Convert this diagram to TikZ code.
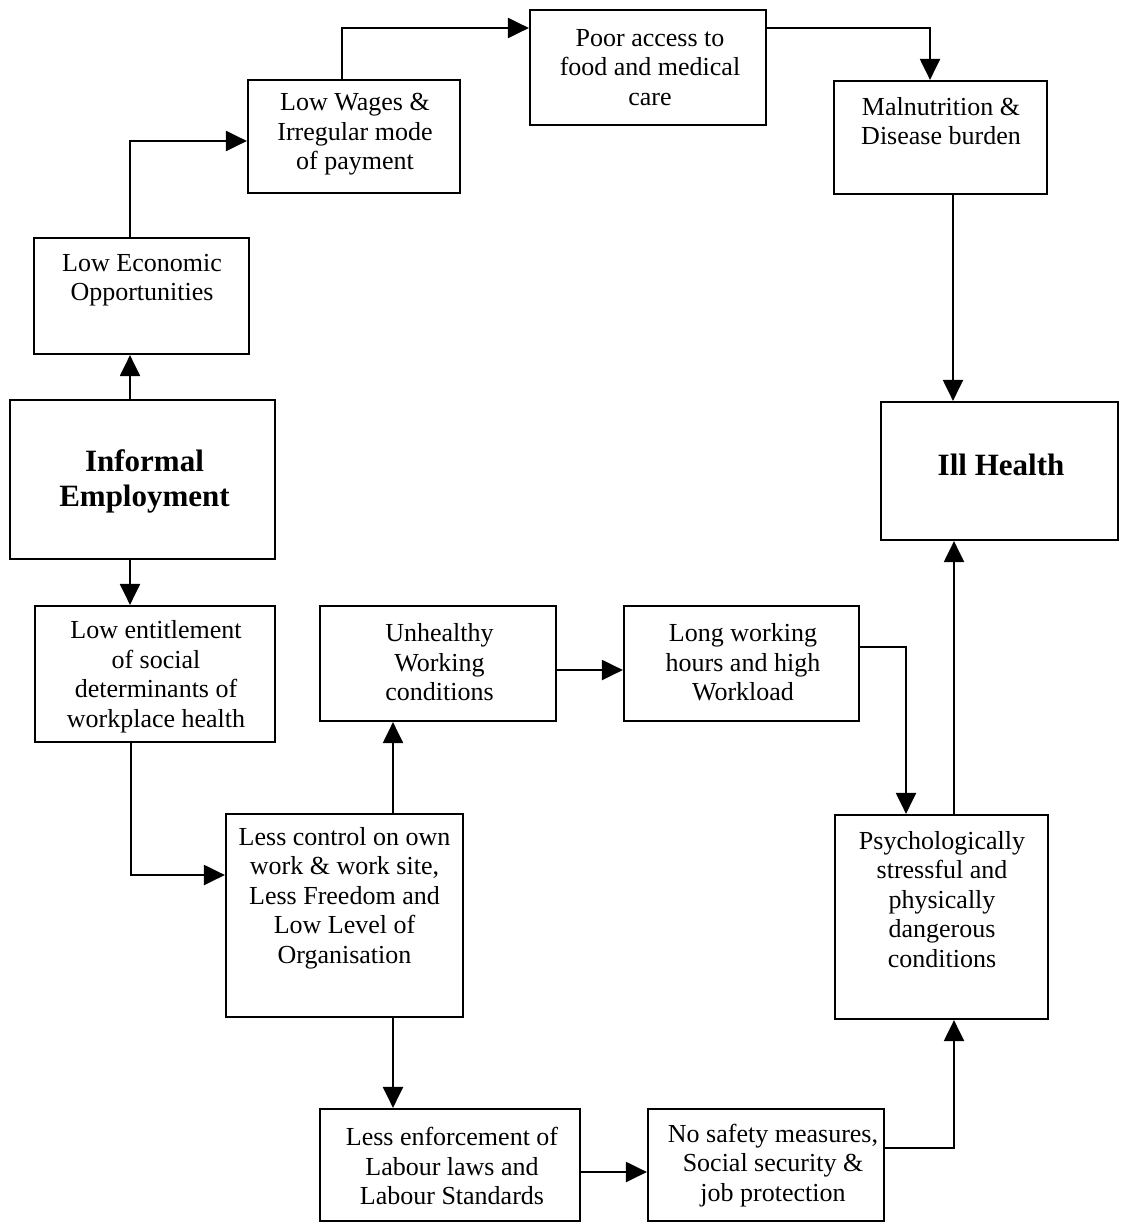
\documentclass[tikz,border=0pt]{standalone}
\usepackage{fontspec}
\setmainfont{Liberation Serif}
\usetikzlibrary{arrows.meta}
\tikzset{
  box/.style={draw, line width=2.2pt, inner sep=0pt, fill=none},
  lbl/.style={inner sep=0pt, align=center, font=\fontsize{26}{29.5}\selectfont},
  blbl/.style={inner sep=0pt, align=center, font=\fontsize{31}{35}\selectfont\bfseries},
  arr/.style={line width=2.2pt, -{Triangle[length=21pt,width=20pt]}}
}
\begin{document}
\begin{tikzpicture}[x=1pt,y=-1pt]
\fill[white] (0,0) rectangle (1127,1223);
\useasboundingbox (0,0) rectangle (1127,1223);
% boxes
\node[box, minimum width=215pt, minimum height=116pt] (le) at (141.5,296) {};
\node[box, minimum width=212pt, minimum height=113pt] (lw) at (354,136.5) {};
\node[box, minimum width=236pt, minimum height=115pt] (pa) at (648,67.5) {};
\node[box, minimum width=213pt, minimum height=113pt] (md) at (940.5,137.5) {};
\node[box, minimum width=265pt, minimum height=159pt] (ie) at (142.5,479.5) {};
\node[box, minimum width=237pt, minimum height=138pt] (ih) at (999.5,471) {};
\node[box, minimum width=240pt, minimum height=136pt] (lent) at (155,674) {};
\node[box, minimum width=236pt, minimum height=115pt] (uw) at (438,663.5) {};
\node[box, minimum width=235pt, minimum height=115pt] (lwh) at (741.5,663.5) {};
\node[box, minimum width=237pt, minimum height=203pt] (lc) at (344.5,915.5) {};
\node[box, minimum width=213pt, minimum height=204pt] (ps) at (941.5,917) {};
\node[box, minimum width=260pt, minimum height=112pt] (lenf) at (450,1165) {};
\node[box, minimum width=236pt, minimum height=112pt] (ns) at (766,1165) {};
% labels
\node[lbl] (le-t) at (142,280) {Low Economic\\Opportunities};
\node[lbl] (lw-t) at (355,134.5) {Low Wages \&\\Irregular mode\\of payment};
\node[lbl] (pa-t) at (650,67.5) {Poor access to\\food and medical\\care};
\node[lbl] (md-t) at (941,121) {Malnutrition \&\\Disease burden};
\node[blbl] (ie-t) at (144.5,481.5) {Informal\\Employment};
\node[blbl] (ih-t) at (1001,465) {Ill Health};
\node[lbl] (lent-t) at (156,676.5) {Low entitlement\\of social\\determinants of\\workplace health};
\node[lbl] (uw-t) at (439.5,662.5) {Unhealthy\\Working\\conditions};
\node[lbl] (lwh-t) at (743,662.5) {Long working\\hours and high\\Workload};
\node[lbl] (lc-t) at (344.5,898) {Less control on own\\work \& work site,\\Less Freedom and\\Low Level of\\Organisation};
\node[lbl] (ps-t) at (942,899.5) {Psychologically\\stressful and\\physically\\dangerous\\conditions};
\node[lbl] (lenf-t) at (452,1166) {Less enforcement of\\Labour laws and\\Labour Standards};
\node[lbl] (ns-t) at (773,1165.5) {No safety measures,\\Social security \&\\job protection};
% connectors
\coordinate (c1) at ([xshift=-12.5pt]ie.north);
\draw[arr] (c1) -- (c1 |- le.south);
\draw[arr] ([xshift=-11.5pt]le.north) |- ([yshift=-4.5pt]lw.west);
\draw[arr] ([xshift=-12pt]lw.north) |- ([yshift=39.5pt]pa.west);
\draw[arr] ([yshift=39.5pt]pa.east) -| ([xshift=-10.5pt]md.north);
\coordinate (c5) at ([xshift=12.5pt]md.south);
\draw[arr] (c5) -- (c5 |- ih.north);
\coordinate (c6) at ([xshift=12.5pt]ps.north);
\draw[arr] (c6) -- (c6 |- ih.south);
\coordinate (c7) at ([xshift=-12.5pt]ie.south);
\draw[arr] (c7) -- (c7 |- lent.north);
\draw[arr] ([xshift=-24pt]lent.south) |- ([yshift=40.5pt]lc.west);
\coordinate (c9) at ([xshift=48.5pt]lc.north);
\draw[arr] (c9) -- (c9 |- uw.south);
\coordinate (c10) at ([yshift=-6.5pt]uw.east);
\draw[arr] (c10) -- (c10 -| lwh.west);
\draw[arr] ([yshift=16.5pt]lwh.east) -| ([xshift=-35.5pt]ps.north);
\coordinate (c12) at ([xshift=48.5pt]lc.south);
\draw[arr] (c12) -- (c12 |- lenf.north);
\coordinate (c13) at ([yshift=-7pt]lenf.east);
\draw[arr] (c13) -- (c13 -| ns.west);
\draw[arr] ([yshift=17pt]ns.east) -| ([xshift=12.5pt]ps.south);
\end{tikzpicture}
\end{document}
